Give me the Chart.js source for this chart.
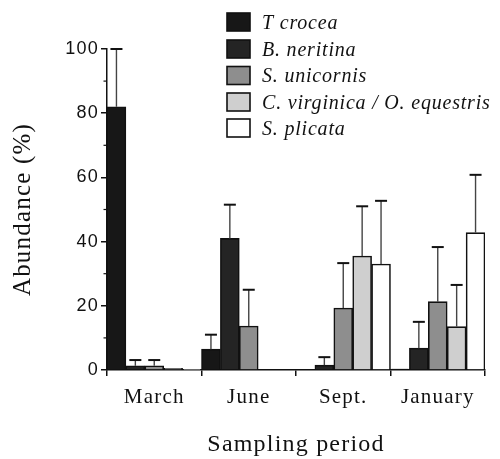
<!DOCTYPE html>
<html><head><meta charset="utf-8">
<script src="https://cdn.jsdelivr.net/npm/chart.js@4"></script>
<style>html,body{margin:0;padding:0;background:#fff}#wrap{width:500px;height:459px}</style>
</head><body><div id="wrap"><canvas id="c" width="500" height="459"></canvas></div>
<script>
const categories = ['March', 'June', 'Sept.', 'January'];
const seriesNames = ['T crocea', 'B. neritina', 'S. unicornis', 'C. virginica / O. equestris', 'S. plicata'];
const tCrocea = [82, 6.5, 0, 0.3];
const bNeritina = [1.3, 41, 1.5, 6.8];
const sUnicornis = [1.3, 13.7, 19.3, 21.3];
const cVirginica = [0.5, 0, 35.5, 13.5];
const sPlicata = [0.2, 0, 33, 42.8];
const tCroceaErr = [18, 4.5, 0, 0];
const bNeritinaErr = [1.8, 10.5, 2.5, 8.2];
const sUnicornisErr = [1.8, 11.3, 14, 17];
const cVirginicaErr = [0, 0, 15.5, 13];
const sPlicataErr = [0, 0, 19.7, 18];
const yTicks = [0, 20, 40, 60, 80, 100];
const colors = ['#171717', '#242424', '#8e8e8e', '#cfcfcf', '#ffffff'];

const values = [tCrocea, bNeritina, sUnicornis, cVirginica, sPlicata];
const errs = [tCroceaErr, bNeritinaErr, sUnicornisErr, cVirginicaErr, sPlicataErr];

const serif = '"Liberation Serif", "DejaVu Serif", serif';
const sans = '"Liberation Sans", Arial, sans-serif';
const SPACING = '1.2px';

const spacingPlugin = {
  id: 'spacing',
  beforeLayout(chart) { chart.ctx.letterSpacing = SPACING; },
  beforeDraw(chart) { chart.ctx.letterSpacing = SPACING; }
};

const errorBars = {
  id: 'errorBars',
  afterDatasetsDraw(chart) {
    const ctx = chart.ctx, ys = chart.scales.y;
    chart.data.datasets.forEach((ds, di) => {
      const meta = chart.getDatasetMeta(di);
      meta.data.forEach((bar, i) => {
        const e = ds.errors[i];
        if (!e) return;
        const yTop = ys.getPixelForValue(ds.data[i] + e);
        const yBar = ys.getPixelForValue(ds.data[i]);
        ctx.save();
        ctx.strokeStyle = '#444';
        ctx.lineWidth = 1.4;
        ctx.beginPath(); ctx.moveTo(bar.x, yBar); ctx.lineTo(bar.x, yTop); ctx.stroke();
        ctx.strokeStyle = '#111';
        ctx.lineWidth = 2;
        ctx.beginPath(); ctx.moveTo(bar.x - 6, yTop); ctx.lineTo(bar.x + 6, yTop); ctx.stroke();
        ctx.restore();
      });
    });
  }
};

const minorTicks = {
  id: 'minorTicks',
  afterDraw(chart) {
    const ctx = chart.ctx, ys = chart.scales.y, x0 = chart.chartArea.left;
    ctx.save();
    ctx.strokeStyle = '#111'; ctx.lineWidth = 1.2;
    for (let k = 0; k < yTicks.length - 1; k++) {
      const v = (yTicks[k] + yTicks[k + 1]) / 2;
      const py = ys.getPixelForValue(v);
      ctx.beginPath(); ctx.moveTo(x0, py); ctx.lineTo(x0 - 3.5, py); ctx.stroke();
    }
    ctx.restore();
  }
};

const customLegend = {
  id: 'customLegend',
  afterDraw(chart) {
    const ctx = chart.ctx;
    const rows = [22, 49, 75.5, 102, 128];
    ctx.save();
    ctx.letterSpacing = '0.8px';
    chart.data.datasets.forEach((ds, i) => {
      const cy = rows[i];
      ctx.fillStyle = ds.backgroundColor;
      ctx.fillRect(227, cy - 9, 23, 18);
      ctx.strokeStyle = '#111'; ctx.lineWidth = 1.6;
      ctx.strokeRect(227, cy - 9, 23, 18);
      ctx.fillStyle = '#111';
      ctx.font = 'italic 20px ' + serif;
      ctx.textBaseline = 'alphabetic';
      ctx.fillText(ds.label, 262, cy + 6.5);
    });
    ctx.restore();
  }
};

new Chart(document.getElementById('c'), {
  type: 'bar',
  data: {
    labels: categories,
    datasets: seriesNames.map((n, i) => ({
      label: n,
      data: values[i],
      errors: errs[i],
      backgroundColor: colors[i],
      borderColor: '#111',
      borderWidth: 1.6,
      categoryPercentage: 1,
      barPercentage: 1
    }))
  },
  options: {
    responsive: false,
    animation: false,
    layout: { padding: { left: 0, right: 15, top: 49, bottom: 0 } },
    plugins: { legend: { display: false }, tooltip: { enabled: false } },
    scales: {
      x: {
        offset: true,
        grid: { offset: true, drawOnChartArea: false, drawTicks: true, tickLength: 6, color: '#111', lineWidth: 1.5 },
        border: { display: true, color: '#111', width: 1.5 },
        ticks: { color: '#111', font: { family: serif, size: 21 }, padding: 9, maxRotation: 0 },
        title: { display: true, text: 'Sampling period', color: '#111', font: { family: serif, size: 24 }, padding: { top: 0, bottom: 0 } },
        afterFit(s) { s.height = 89; }
      },
      y: {
        min: 0, max: 100,
        afterBuildTicks(s) { s.ticks = yTicks.map(v => ({ value: v })); },
        grid: { drawOnChartArea: false, drawTicks: true, tickLength: 6, color: '#111', lineWidth: 1.5 },
        border: { display: true, color: '#111', width: 1.5 },
        ticks: { color: '#111', font: { family: sans, size: 18 }, padding: 2 },
        title: { display: true, text: 'Abundance (%)', color: '#111', font: { family: serif, size: 25 }, padding: { top: 8, bottom: 0 } },
        afterFit(s) { s.width = 107; }
      }
    }
  },
  plugins: [spacingPlugin, errorBars, minorTicks, customLegend]
});
</script></body></html>
